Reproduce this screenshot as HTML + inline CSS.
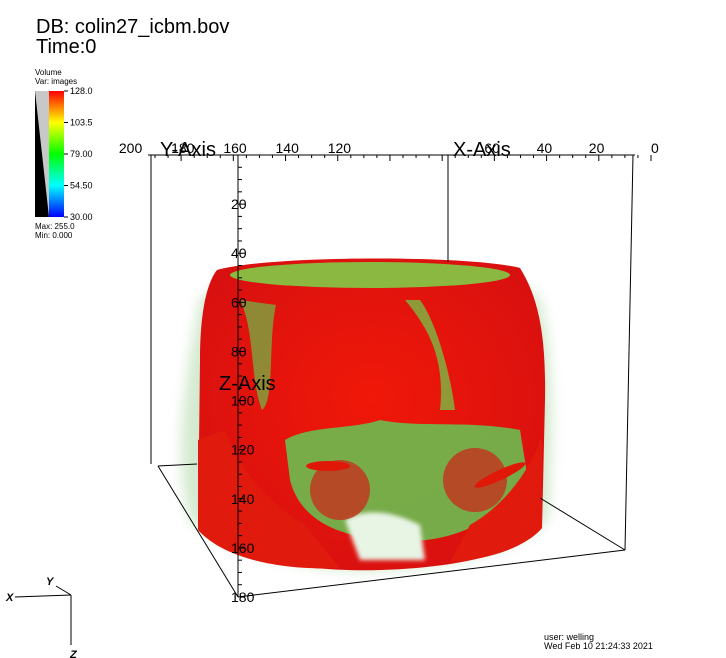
<!DOCTYPE html>
<html><head><meta charset="utf-8"><style>
body{margin:0;background:#fff;width:726px;height:658px;overflow:hidden;font-family:"Liberation Sans",sans-serif}
svg{position:absolute;left:0;top:0}
</style></head><body>
<svg width="726" height="658">
<defs>
<linearGradient id="cb" x1="0" y1="1" x2="0" y2="0">
<stop offset="0" stop-color="#0000ff"/><stop offset="0.25" stop-color="#00ffff"/><stop offset="0.5" stop-color="#00ff00"/><stop offset="0.75" stop-color="#ffff00"/><stop offset="1" stop-color="#ff0000"/></linearGradient>
<radialGradient id="body" cx="0.5" cy="0.45" r="0.6"><stop offset="0" stop-color="#f01808"/><stop offset="1" stop-color="#d81010"/></radialGradient>
<filter id="blur"><feGaussianBlur stdDeviation="6"/></filter>
<filter id="b2"><feGaussianBlur stdDeviation="2"/></filter>
</defs>
<text x="36" y="33" font-size="20">DB: colin27_icbm.bov</text>
<text x="36" y="53" font-size="20">Time:0</text>
<g>
<text x="35" y="75" font-size="8">Volume</text>
<text x="35" y="84" font-size="8">Var: images</text>
<rect x="35" y="91" width="14" height="126" fill="#000"/>
<polygon points="35,91 49,91 49,217" fill="#c8c8c8"/>
<rect x="49" y="91" width="15" height="126" fill="url(#cb)"/>
<g id="legticks" font-size="9" fill="#000"></g>
<text x="35" y="229" font-size="8">Max:  255.0</text>
<text x="35" y="238" font-size="8">Min:  0.000</text>
</g>
<g>
<path d="M200,300 C180,400 175,470 190,520 C230,560 350,575 380,570 C450,568 520,550 548,520 C555,420 552,340 540,300 C520,260 230,255 200,300Z" fill="#b8dcb0" opacity="0.6" filter="url(#blur)"/>
<path d="M217,270 C205,285 200,320 200,360 L198,530 C230,565 330,572 380,570 C450,568 520,555 542,528 L545,400 C546,340 540,300 520,268 C470,255 270,255 217,270Z" fill="url(#body)"/>
<ellipse cx="370" cy="275" rx="140" ry="13" fill="#8ab840"/>
<path d="M240,300 C255,330 250,380 262,410 C275,400 268,340 276,305Z" fill="#7aa840" opacity="0.8"/>
<path d="M405,300 C430,330 445,360 440,410 L455,410 C450,370 435,320 420,300Z" fill="#80b040" opacity="0.85"/>
<path d="M285,440 C310,425 350,430 380,420 C420,428 470,420 520,430 L528,480 C500,520 450,545 400,540 C340,540 300,520 290,480Z" fill="#6cbc50" opacity="0.9"/>
<path d="M345,520 C370,505 400,515 420,525 L425,560 L360,560Z" fill="#e8f4e4" filter="url(#b2)"/>
<circle cx="340" cy="490" r="30" fill="#c03820" opacity="0.85"/>
<circle cx="475" cy="480" r="32" fill="#c03820" opacity="0.85"/>
<ellipse cx="328" cy="466" rx="22" ry="5" fill="#e01808"/>
<ellipse cx="500" cy="475" rx="28" ry="5" fill="#e01808" transform="rotate(-25 500 475)"/>
<path d="M198,440 L198,530 C230,565 300,570 340,568 L305,525 C270,505 240,470 225,430Z" fill="#e01a0c"/>
<path d="M542,440 L542,528 C520,552 480,560 450,562 L470,525 C505,505 530,470 540,440Z" fill="#e01a0c"/>
</g>
<g stroke="#000" stroke-width="1" fill="none">
<line x1="148" y1="155" x2="635" y2="155"/>
<line x1="151" y1="155" x2="151" y2="464"/>
<line x1="448" y1="155" x2="448" y2="262"/>
<line x1="633" y1="155" x2="625" y2="550"/>
<line x1="158" y1="466" x2="238" y2="597"/>
<line x1="158" y1="466" x2="197" y2="464"/>
<line x1="238" y1="597" x2="625" y2="550"/>
<line x1="540" y1="498" x2="625" y2="550"/>
<line x1="238" y1="155" x2="238" y2="597"/>
</g>
<g id="xticks" font-size="14"></g>
<g id="zticks" font-size="14"></g>
<text x="160" y="156" font-size="20">Y-Axis</text>
<text x="453" y="156" font-size="20">X-Axis</text>
<text x="219" y="390" font-size="20">Z-Axis</text>
<g stroke="#000" fill="none">
<line x1="15" y1="597" x2="71" y2="595"/><line x1="71" y1="595" x2="71" y2="645"/><line x1="71" y1="595" x2="56" y2="586"/>
</g>
<text x="6" y="601" font-size="11" font-style="italic" font-weight="bold">X</text>
<text x="46" y="585" font-size="11" font-style="italic" font-weight="bold">Y</text>
<text x="70" y="658" font-size="11" font-style="italic" font-weight="bold">Z</text>
<text x="544" y="640" font-size="9">user: welling</text>
<text x="544" y="649" font-size="9">Wed Feb 10 21:24:33 2021</text>
</svg>
<script>
const legendLabels=["128.0","103.5","79.00","54.50","30.00"];
const xTickLabels=["200","180","160","140","120","100","60","40","20","0"];
const zTickLabels=["20","40","60","80","100","120","140","160","180"];
const NS="http://www.w3.org/2000/svg";
function mk(t,a,p){const e=document.createElementNS(NS,t);for(const k in a)e.setAttribute(k,a[k]);p.appendChild(e);return e;}
const lg=document.getElementById('legticks');
legendLabels.forEach((l,i)=>{const y=91+i*(126/(legendLabels.length-1));
const ln=mk('line',{x1:64,y1:y,x2:68,y2:y,stroke:'#000'},lg);


const t=mk('text',{x:70,y:y+3},lg);t.textContent=l;

});
const xg=document.getElementById('xticks');
const xVals=xTickLabels.map(Number);
function xs(v){return 651-v*(651-155)/190;}
xVals.forEach((v,i)=>{if(v===100)return;const t=mk('text',{x:xs(v)-(v===0?0:10),y:153},xg);t.textContent=xTickLabels[i];

});
for(let v=0;v<=190;v+=5){const x=xs(v);const l=mk('line',{x1:x,y1:155,x2:x,y2:v%20===0?161:158,stroke:'#000'},xg);

}
const zg=document.getElementById('zticks');
function zs(v){return 155+v*(597-155)/180;}
zTickLabels.forEach(l=>{const y=zs(+l);const t=mk('text',{x:231,y:y+5},zg);t.textContent=l;

});
for(let v=0;v<=180;v+=5){const y=zs(v);const l=mk('line',{x1:238,y1:y,x2:v%20===0?245:242,y2:y,stroke:'#000'},zg);

}
</script>
</body></html>
